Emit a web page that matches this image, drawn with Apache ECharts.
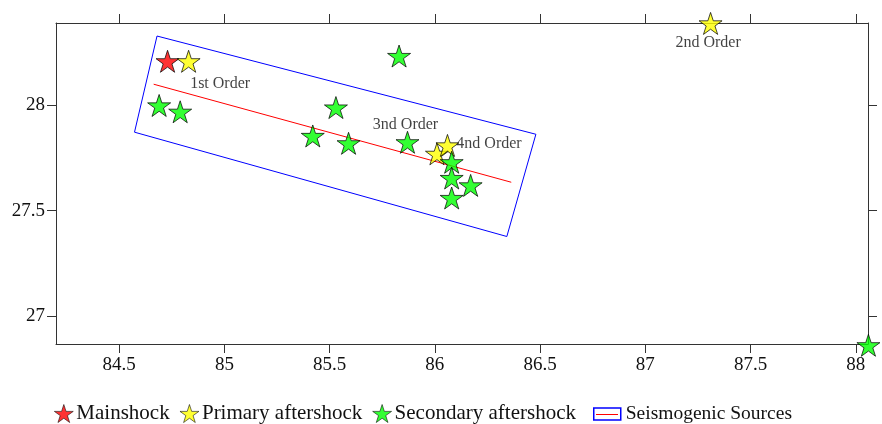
<!DOCTYPE html>
<html>
<head>
<meta charset="utf-8">
<script src="https://cdn.jsdelivr.net/npm/echarts@6/dist/echarts.min.js"></script>
<style>
  html, body { margin: 0; padding: 0; background: #fff; }
  #chart { width: 882px; height: 424px; }
</style>
</head>
<body>
<div id="chart"></div>
<script>
// Epicentres (longitude, latitude)
const mainshock = [[84.73, 28.21]];
const primaryAftershocks = [[84.83, 28.21], [87.31, 28.39], [86.01, 27.77], [86.06, 27.81]];
const primaryLabels = ['1st Order', '2nd Order', '3nd Order', '4nd Order'];
const secondaryAftershocks = [
  [85.83, 28.235], [84.69, 28.00], [84.79, 27.97], [85.53, 27.99],
  [85.42, 27.855], [85.59, 27.82], [85.87, 27.825], [86.08, 27.73],
  [86.08, 27.655], [86.17, 27.62], [86.08, 27.56], [88.06, 26.86]
];

// Seismogenic source: outline of the rupture box and its central trace
const sourceBox = [[84.68, 28.33], [86.48, 27.863], [86.342, 27.377], [84.573, 27.873], [84.68, 28.33]];
const faultTrace = [[84.664, 28.101], [86.363, 27.635]];

// Axis extents and tick labels
const lonRange = [84.2, 88.058];
const latRange = [26.866, 28.392];
const lonTicks = [84.5, 85, 85.5, 86, 86.5, 87, 87.5, 88];
const latTicks = [27, 27.5, 28];

const FONT = "'Liberation Serif', 'Times New Roman', serif";
const STAR = 'path://M50 0 L61.23 34.55 L97.55 34.55 L68.17 55.9 L79.39 90.45 L50 69.1 L20.61 90.45 L31.83 55.9 L2.45 34.55 L38.77 34.55 Z';
const FRAME = '#333';
const STAR_SIZE = [23, 22];

// label placement (pixels from the star centre) for each primary aftershock
const labelOffsets = [[32, 23], [-2, 19.5], [-31, -29], [42, -1]];

function starSeries(name, data, color, extra) {
  return Object.assign({
    name: name,
    type: 'scatter',
    data: data,
    symbol: STAR,
    symbolSize: STAR_SIZE,
    clip: false,
    z: 5,
    itemStyle: { color: color, borderColor: '#000', borderWidth: 0.9 }
  }, extra || {});
}

function axisCommon(range, ticks, showLabels, margin) {
  return {
    type: 'value',
    min: range[0],
    max: range[1],
    axisLine: { show: true, onZero: false, lineStyle: { color: FRAME, width: 1 } },
    axisTick: { show: true, inside: false, length: 9, customValues: ticks, lineStyle: { color: FRAME } },
    axisLabel: {
      show: showLabels,
      customValues: ticks,
      margin: margin,
      fontSize: 19,
      fontFamily: FONT,
      color: '#111'
    },
    splitLine: { show: false }
  };
}

const chart = echarts.init(document.getElementById('chart'), null, { renderer: 'canvas' });

chart.setOption({
  animation: false,
  backgroundColor: '#fff',
  grid: { left: 56, right: 14, top: 23, bottom: 80, containLabel: false },
  xAxis: [
    Object.assign(axisCommon(lonRange, lonTicks, true, 12), { position: 'bottom' }),
    Object.assign(axisCommon(lonRange, lonTicks, false, 12), { position: 'top' })
  ],
  yAxis: [
    Object.assign(axisCommon(latRange, latTicks, true, 11), { position: 'left' }),
    Object.assign(axisCommon(latRange, latTicks, false, 11), { position: 'right' })
  ],
  legend: [
    {
      data: ['Mainshock', 'Primary aftershock', 'Secondary aftershock'],
      left: 54,
      top: 403,
      padding: 0,
      itemWidth: 19,
      itemHeight: 18,
      itemGap: 10,
      symbolKeepAspect: true,
      selectedMode: false,
      itemStyle: { borderColor: '#000', borderWidth: 0.7 },
      textStyle: { fontSize: 21, fontFamily: FONT, color: '#111', padding: [0, 0, 0, -2] }
    },
    {
      data: [{
        name: 'Seismogenic Sources',
        icon: 'rect',
        itemStyle: { color: 'rgba(255,255,255,0)', borderColor: '#0000ff', borderWidth: 1.5 }
      }],
      left: 593,
      top: 404,
      padding: 0,
      itemWidth: 27,
      itemHeight: 12,
      selectedMode: false,
      textStyle: { fontSize: 19.5, fontFamily: FONT, color: '#111' }
    }
  ],
  graphic: {
    elements: [{
      type: 'line',
      shape: { x1: 596, y1: 414.5, x2: 618, y2: 414.5 },
      style: { stroke: '#ff0000', lineWidth: 1 },
      z: 100
    }]
  },
  series: [
    {
      name: 'Seismogenic Sources',
      type: 'line',
      data: sourceBox,
      showSymbol: false,
      symbol: 'none',
      silent: true,
      z: 2,
      lineStyle: { color: '#0000ff', width: 1 },
      itemStyle: { color: '#0000ff' }
    },
    {
      name: 'Fault trace',
      type: 'line',
      data: faultTrace,
      showSymbol: false,
      symbol: 'none',
      silent: true,
      z: 2,
      lineStyle: { color: '#ff0000', width: 1 }
    },
    starSeries('Mainshock', mainshock, '#ff0000'),
    starSeries('Primary aftershock', primaryAftershocks.map(function (p, i) {
      return {
        value: p,
        label: {
          show: true,
          formatter: primaryLabels[i],
          position: [STAR_SIZE[0] / 2 + labelOffsets[i][0], STAR_SIZE[1] / 2 + labelOffsets[i][1]],
          align: 'center',
          verticalAlign: 'middle',
          fontSize: 16,
          fontFamily: FONT,
          color: '#111'
        }
      };
    }), '#ffff00', { labelLayout: { hideOverlap: false } }),
    starSeries('Secondary aftershock', secondaryAftershocks, '#00ff00')
  ]
});
</script>
</body>
</html>
